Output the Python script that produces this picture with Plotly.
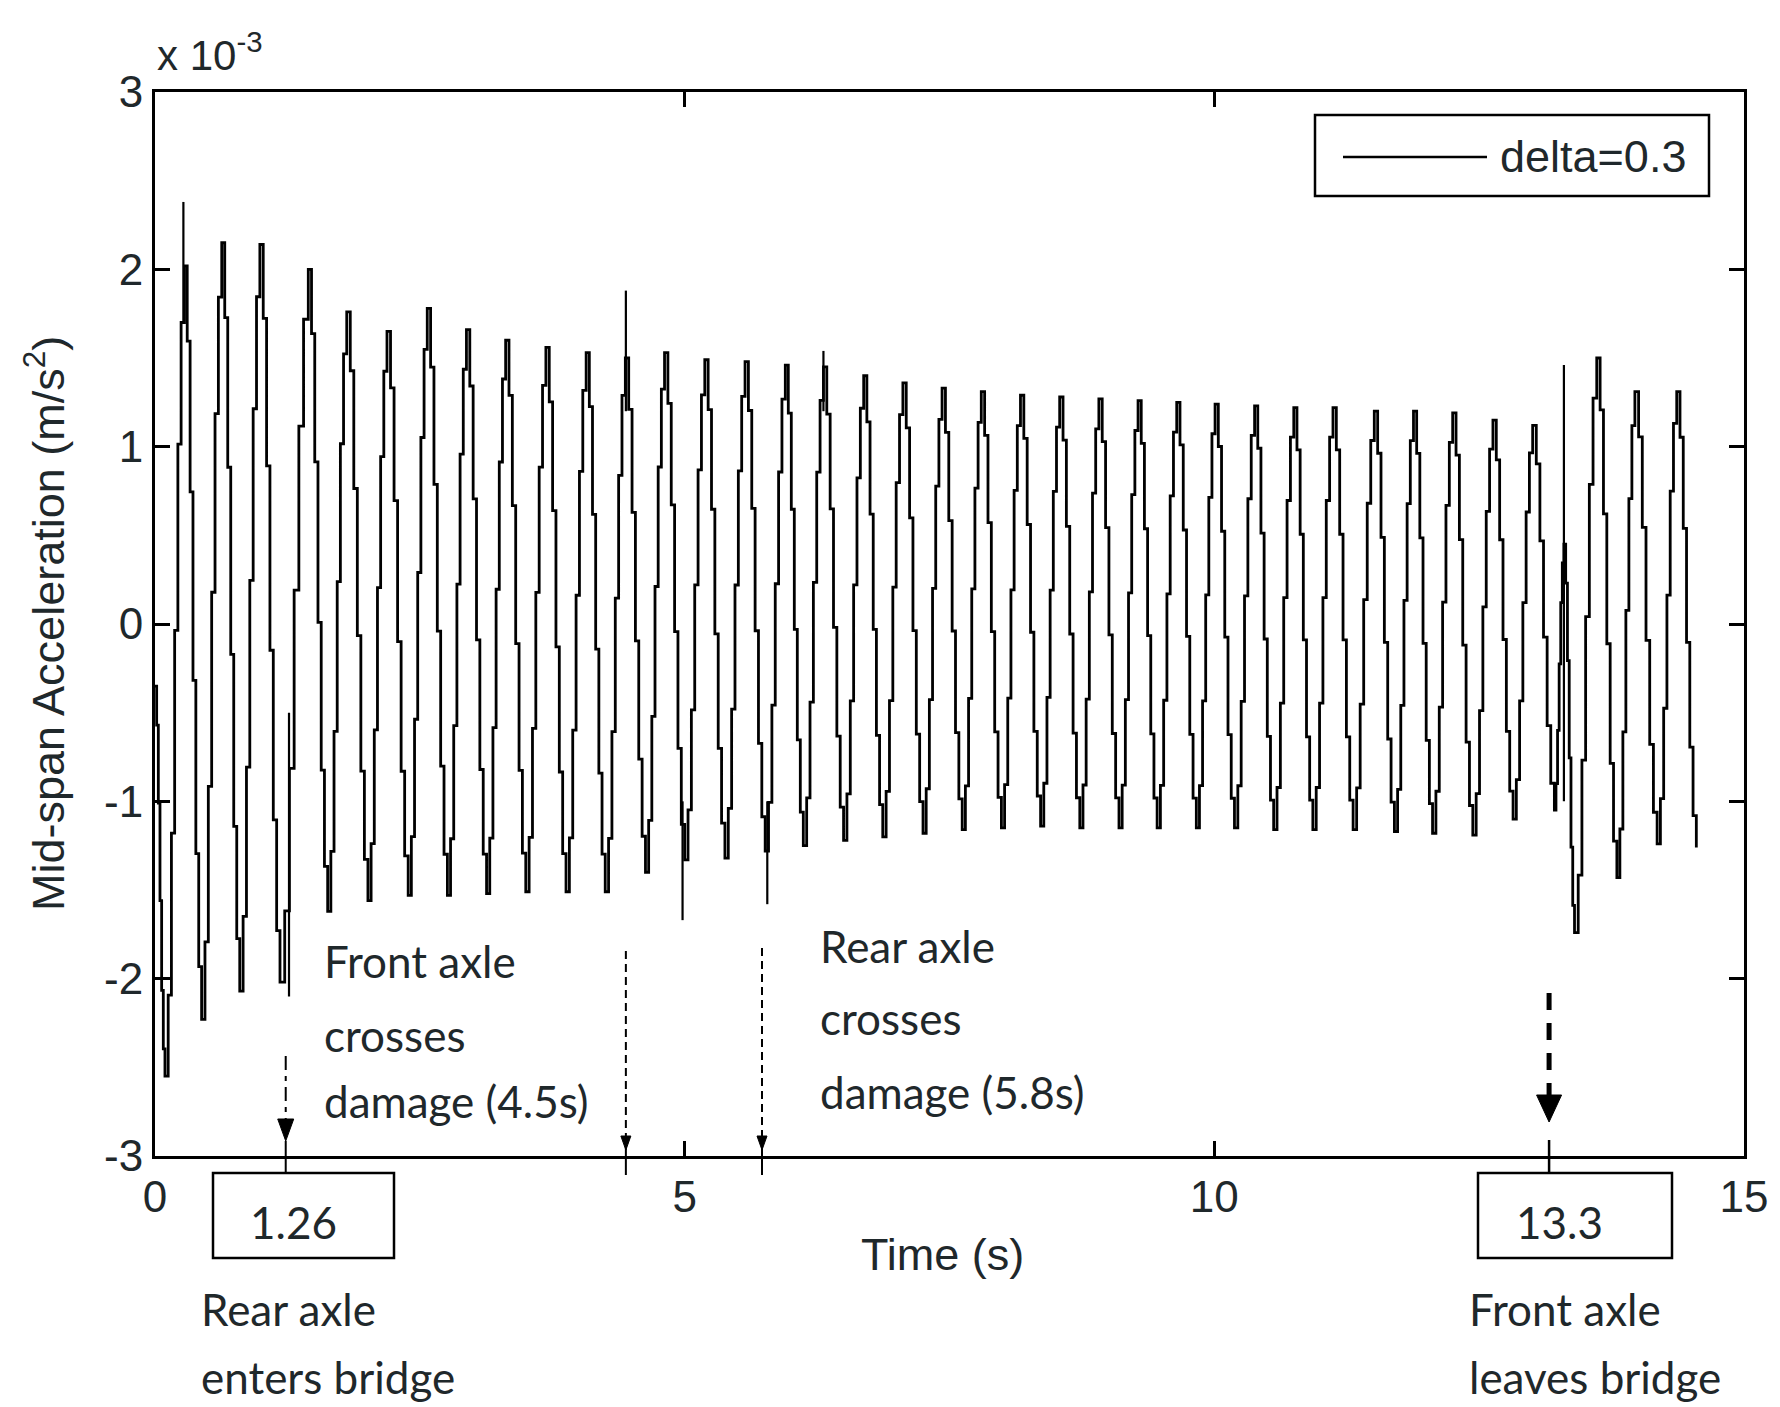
import plotly.graph_objects as go

# ---------------- data (acceleration, x 10^-3 m/s^2) ----------------
START_T, START_A = 0.0, -0.35
END_T, END_A = 14.55, -1.26

TROUGH_T = [0.094, 0.44, 0.80, 1.18, 1.63, 2.01, 2.39, 2.76, 3.13, 3.50, 3.88, 4.25, 4.63,
            5.00, 5.38, 5.76, 6.12, 6.50, 6.87, 7.25, 7.62, 7.99, 8.36, 8.73, 9.10, 9.46,
            9.83, 10.19, 10.56, 10.93, 11.31, 11.70, 12.06, 12.44, 12.82, 13.21, 13.40,
            13.80, 14.18]
TROUGH_A = [-2.55, -2.23, -2.07, -2.02, -1.62, -1.56, -1.53, -1.53, -1.52, -1.51, -1.51, -1.51,
            -1.40, -1.33, -1.32, -1.28, -1.25, -1.22, -1.20, -1.18, -1.16, -1.15, -1.14, -1.15,
            -1.15, -1.15, -1.15, -1.15, -1.16, -1.16, -1.16, -1.17, -1.18, -1.19, -1.10, -1.05,
            -1.74, -1.43, -1.24]
PEAK_T = [0.277, 0.63, 0.99, 1.447, 1.81, 2.19, 2.57, 2.94, 3.31, 3.69, 4.07, 4.44, 4.81, 5.19,
          5.57, 5.95, 6.31, 6.69, 7.06, 7.43, 7.80, 8.17, 8.54, 8.91, 9.28, 9.645, 10.007, 10.38,
          10.75, 11.12, 11.51, 11.88, 12.25, 12.63, 13.005, 13.30, 13.61, 13.97, 14.365]
PEAK_A = [2.02, 2.15, 2.14, 2.00, 1.76, 1.65, 1.78, 1.66, 1.60, 1.56, 1.53, 1.50, 1.53, 1.49,
          1.48, 1.46, 1.45, 1.40, 1.36, 1.33, 1.31, 1.29, 1.28, 1.27, 1.26, 1.25, 1.24, 1.23,
          1.22, 1.22, 1.20, 1.20, 1.19, 1.15, 1.12, 0.45, 1.50, 1.31, 1.31]
# relative level of the sampled (staircase) steps between two extremes, read from one cycle
STEP_FRAC = [0.0, 0.10, 0.30, 0.55, 0.78, 0.93]

SPIKE_T = [0.268, 1.265, 4.445, 4.98, 5.78, 6.31, 13.30]
SPIKE_LO = [1.70, -2.10, 1.20, -1.67, -1.58, 1.20, -1.00]
SPIKE_HI = [2.38, -0.50, 1.88, -1.00, -1.00, 1.54, 1.46]

EVENT_T = [1.234, 4.445, 5.73, 13.16]          # arrows: rear enters, front@damage, rear@damage, front leaves
X_TICKS = [0, 5, 10, 15]
Y_TICKS = [-3, -2, -1, 0, 1, 2, 3]
SERIES_NAME = "delta=0.3"

# ---------------- build the staircase signal ----------------
ext = [(START_T, START_A)]
for tt, ta, pt, pa in zip(TROUGH_T, TROUGH_A, PEAK_T, PEAK_A):
    ext += [(tt, ta), (pt, pa)]
ext.append((END_T, END_A))
xs, ys = [], []
n = len(STEP_FRAC)
for (t0, a0), (t1, a1) in zip(ext[:-1], ext[1:]):
    for k, f in enumerate(STEP_FRAC):
        xs.append(t0 + (t1 - t0) * k / n)
        ys.append(a0 + (a1 - a0) * f)
xs.append(END_T)
ys.append(END_A)

sx, sy = [], []
for t, lo, hi in zip(SPIKE_T, SPIKE_LO, SPIKE_HI):
    sx += [t, t, None]
    sy += [lo, hi, None]

fig = go.Figure()
fig.add_trace(go.Scatter(x=xs, y=ys, mode="lines", line=dict(color="black", width=2.8, shape="hv"),
                         name=SERIES_NAME, showlegend=False))
fig.add_trace(go.Scatter(x=sx, y=sy, mode="lines", line=dict(color="black", width=2.2),
                         showlegend=False, hoverinfo="skip"))

# ---------------- layout helpers (pixel -> paper) ----------------
L, R, T, B = 155, 1744, 92, 1156
W, H = R - L, B - T


def px(x):
    return (x - L) / W


def py(y):
    return (B - y) / H


TXT = "#1f282b"
MFONT = "Liberation Sans"
CFONT = "Lato"
ann = []
shapes = []


def text(s, x, y, size=44, family=CFONT, xanchor="left", angle=0):
    ann.append(dict(text=s, x=px(x), y=py(y), xref="paper", yref="paper", xanchor=xanchor,
                    yanchor="middle", showarrow=False, textangle=angle,
                    font=dict(family=family, size=size, color=TXT)))


def vline(t, y0, y1, width, dash="solid"):
    shapes.append(dict(type="line", xref="x", yref="paper", x0=t, x1=t, y0=py(y0), y1=py(y1),
                       line=dict(color="black", width=width, dash=dash)))


def head(t, ytip, w, h):
    hw = w / 2 / W * 15
    shapes.append(dict(type="path", xref="x", yref="paper",
                       path=f"M {t - hw},{py(ytip - h)} L {t + hw},{py(ytip - h)} L {t},{py(ytip)} Z",
                       fillcolor="black", line=dict(color="black", width=1)))


# axis titles and exponent
text("Time (s)", 942, 1254, size=45, family=MFONT, xanchor="center")
text("Mid-span Acceleration (m/s<sup>2</sup>)", 45, 624, size=45, family=MFONT,
     xanchor="center", angle=-90)
text("x 10<sup>-3</sup>", 155, 52, size=42, family=MFONT)

# legend (drawn by hand so the sample line matches)
shapes.append(dict(type="rect", xref="paper", yref="paper", x0=px(1315), x1=px(1709), y0=py(196),
                   y1=py(115), line=dict(color="black", width=2.5), fillcolor="white"))
shapes.append(dict(type="line", xref="paper", yref="paper", x0=px(1343), x1=px(1487), y0=py(157),
                   y1=py(157), line=dict(color="black", width=2.5)))
text(SERIES_NAME, 1498, 157, size=45, family=MFONT)

# event 1: rear axle enters bridge
t1, t2, t3, t4 = EVENT_T
vline(t1, 1056, 1120, 2, "14px,6px,5px,6px")
head(t1, 1141, 16, 22)
vline(t1, 1141, 1173, 2)
shapes.append(dict(type="rect", xref="paper", yref="paper", x0=px(213), x1=px(394), y0=py(1258),
                   y1=py(1173), line=dict(color="black", width=2.5)))
text("1.26", 293, 1222, size=44, xanchor="center")
text("Rear axle", 199, 1309)
text("enters bridge", 199, 1377)

# event 2: front axle crosses damage
vline(t2, 951, 1140, 2, "8px,5px")
head(t2, 1150, 10, 14)
vline(t2, 1140, 1175, 2)
text("Front axle", 322, 961)
text("crosses", 322, 1035)
text("damage (4.5s)", 322, 1101)

# event 3: rear axle crosses damage
vline(t3, 948, 1140, 2, "8px,5px")
head(t3, 1150, 10, 14)
vline(t3, 1140, 1175, 2)
text("Rear axle", 818, 946)
text("crosses", 818, 1018)
text("damage (5.8s)", 818, 1092)

# event 4: front axle leaves bridge
vline(t4, 993, 1097, 5, "17px,13px")
head(t4, 1122, 25, 27)
vline(t4, 1140, 1173, 2.5)
shapes.append(dict(type="rect", xref="paper", yref="paper", x0=px(1478), x1=px(1672), y0=py(1258),
                   y1=py(1173), line=dict(color="black", width=2.5)))
text("13.3", 1559, 1222, size=44, xanchor="center")
text("Front axle", 1467, 1309)
text("leaves bridge", 1467, 1377)

axis_common = dict(ticks="inside", ticklen=15, tickwidth=2.5, tickcolor="black", showline=True,
                   linecolor="black", linewidth=3, mirror="allticks", showgrid=False,
                   zeroline=False, tickfont=dict(family=MFONT, size=44, color=TXT))
fig.update_layout(
    width=1780, height=1407,
    margin=dict(l=L, r=1780 - R, t=T, b=1407 - B),
    paper_bgcolor="white", plot_bgcolor="white",
    xaxis=dict(range=[0, 15], tickvals=X_TICKS, ticktext=[str(v) for v in X_TICKS],
               ticklabelstandoff=0, **axis_common),
    yaxis=dict(range=[-3, 3], tickvals=Y_TICKS, ticktext=[str(v) for v in Y_TICKS],
               ticklabelstandoff=0, **axis_common),
    annotations=ann, shapes=shapes, showlegend=False,
)
fig.write_html("out.html")
